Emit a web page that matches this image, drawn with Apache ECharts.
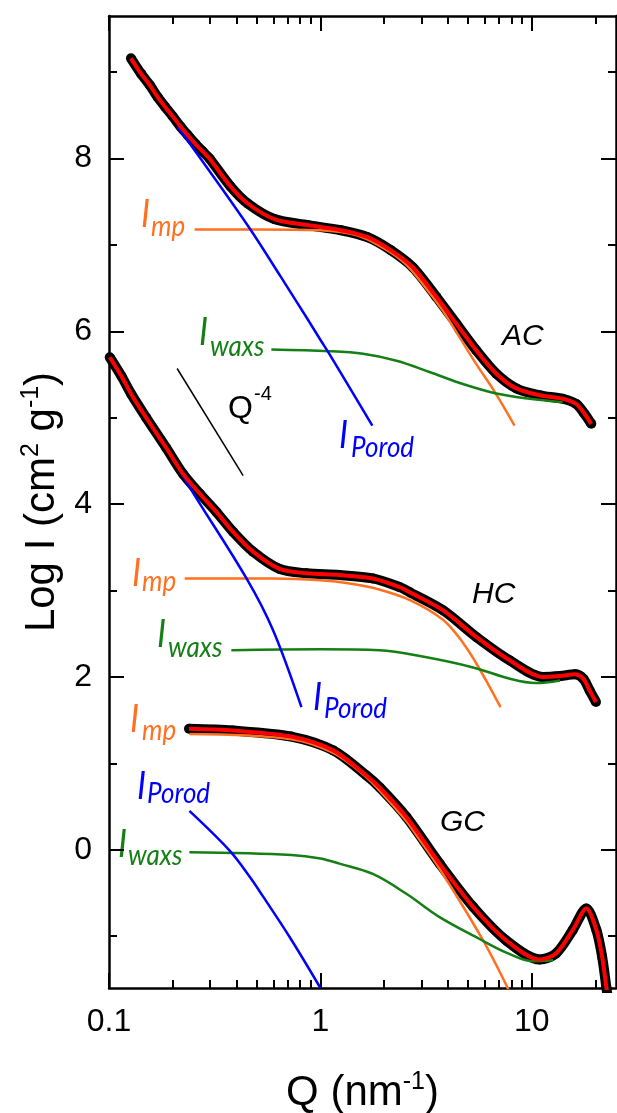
<!DOCTYPE html>
<html><head><meta charset="utf-8">
<script src="https://cdn.jsdelivr.net/npm/echarts@6/dist/echarts.min.js"></script>
<style>html,body{margin:0;padding:0;background:#fff}#c{width:617px;height:1113px}</style>
</head><body><div id="c"></div>
<script>
// ---------- tick definitions ----------
const X_MAJOR = [0.1, 1, 10];
const X_LABELS = ['0.1', '1', '10'];
const X_MINOR = [0.2,0.3,0.4,0.5,0.6,0.7,0.8,0.9,2,3,4,5,6,7,8,9,20];
const Y_MAJOR = [0, 2, 4, 6, 8];
const Y_LABELS = ['0', '2', '4', '6', '8'];
const Y_MINOR = [-1, 1, 3, 5, 7, 9];

// ---------- AC ----------
const AC_Q = [0.127,0.142,0.156,0.170,0.184,0.200,0.218,0.236,0.256,0.278,0.299,0.375,0.453,0.605,0.869,1.25,1.67,2.15,2.74,3.53,4.39,5.46,6.79,8.44,10.9,14.0,16.2,17.7,19.1];
const AC_I = [9.16,8.98,8.85,8.71,8.60,8.49,8.37,8.27,8.17,8.08,8.00,7.68,7.48,7.30,7.23,7.17,7.09,6.94,6.74,6.40,6.09,5.78,5.51,5.34,5.26,5.22,5.16,5.05,4.93];
const AC_MP_Q = [0.254,0.5,1.0,1.5,2.0,2.5,3.0,3.79,4.5,5.46,6.67,8.28];
const AC_MP_I = [7.18,7.18,7.17,7.11,6.96,6.79,6.57,6.24,5.95,5.62,5.30,4.91];
const AC_WAXS_Q = [0.586,1.10,1.59,2.29,3.28,4.72,6.79,9.75,14.0];
const AC_WAXS_I = [5.79,5.77,5.74,5.66,5.53,5.39,5.28,5.22,5.18];
const AC_POROD_Q = [0.211,0.327,0.469,0.650,0.870,0.989,1.107,1.76];
const AC_POROD_I = [8.37,7.72,7.17,6.63,6.14,5.92,5.73,4.91];

// ---------- HC ----------
const HC_Q = [0.1008,0.1146,0.1277,0.150,0.1867,0.224,0.269,0.322,0.386,0.480,0.641,0.857,1.23,1.77,2.37,2.65,3.81,5.48,7.88,11.3,13.6,16.0,17.5,18.8,20.1];
const HC_I = [5.70,5.48,5.27,5.00,4.65,4.35,4.12,3.91,3.68,3.45,3.25,3.20,3.18,3.14,3.04,2.98,2.77,2.46,2.19,2.00,2.01,2.03,1.98,1.84,1.71];
const HC_MP_Q = [0.228,0.6,1.0,1.4,1.85,2.65,3.81,4.71,5.48,6.33,7.11];
const HC_MP_I = [3.14,3.14,3.12,3.08,3.02,2.89,2.66,2.40,2.15,1.88,1.65];
const HC_WAXS_Q = [0.379,1.0,1.90,3.13,5.27,7.88,10.4,13.6];
const HC_WAXS_I = [2.31,2.32,2.31,2.23,2.11,1.98,1.93,1.96];
const HC_POROD_Q = [0.21,0.24,0.447,0.597,0.813];
const HC_POROD_I = [4.46,4.20,3.14,2.54,1.65];

// ---------- GC ----------
const GC_Q = [0.239,0.385,0.728,1.15,1.65,1.91,2.55,3.66,5.27,7.57,10.9,13.0,15.6,18.1,20.2,21.5,22.5,23.0];
const GC_I = [1.40,1.38,1.31,1.15,0.86,0.72,0.38,-0.16,-0.66,-1.05,-1.27,-1.20,-0.93,-0.68,-0.93,-1.24,-1.59,-1.75];
const GC_MP_Q = [0.24,0.728,1.15,1.65,1.91,2.55,2.84,3.66,5.88,7.9];
const GC_MP_I = [1.34,1.28,1.12,0.84,0.68,0.33,0.17,-0.22,-1.05,-1.66];
const GC_WAXS_Q = [0.24,0.728,1.0,1.23,1.77,2.55,3.66,5.63,7.57,10.1,12.6];
const GC_WAXS_I = [-0.03,-0.06,-0.10,-0.16,-0.28,-0.51,-0.78,-1.03,-1.19,-1.29,-1.28];
const GC_POROD_Q = [0.240,0.372,0.462,0.535,0.715,1.00];
const GC_POROD_I = [0.45,-0.01,-0.31,-0.54,-1.01,-1.60];

// ---------- Q^-4 guide ----------
const Q4_Q = [0.21, 0.431];
const Q4_I = [5.57, 4.33];

// ---------- helpers ----------
const zip = (q, v) => q.map((x, i) => [x, v[i]]);
const OR = '#ff7020', GR = '#147f14', BL = '#0000ff';

function dataSeries(q, v) {
  return { type:'line', data: zip(q, v), smooth: 0.3, symbol:'circle', symbolSize: 10, showSymbol: true,
    itemStyle:{color:'#000'}, lineStyle:{color:'#000', width: 10}, z: 2, silent: true };
}
function fitSeries(q, v) {
  return { type:'line', data: zip(q, v), smooth: 0.3, showSymbol:false, symbol:'none',
    lineStyle:{color:'#ff0000', width: 4}, z: 5, silent: true };
}
function compSeries(q, v, c) {
  return { type:'line', data: zip(q, v), smooth: 0.35, showSymbol:false, symbol:'none',
    lineStyle:{color:c, width: 2.5}, z: 4, silent: true };
}

const fmtX = v => { const i = X_MAJOR.findIndex(m => Math.abs(Math.log10(v / m)) < 0.01); return i >= 0 ? X_LABELS[i] : ''; };
const fmtY = v => { const i = Y_MAJOR.findIndex(m => Math.abs(v - m) < 1e-6); return i >= 0 ? Y_LABELS[i] : ''; };

const lineSty = {color:'#000', width:2.5};
const xBase = {type:'log', logBase:10, min:0.1, max:25, gridIndex:0, splitLine:{show:false}, minorTick:{show:false}};
const yBase = {type:'value', min:-1.6, max:9.65, gridIndex:0, splitLine:{show:false}, minorTick:{show:false}};
function tick(vals, len) { return {show:true, inside:true, length:len, lineStyle:{color:'#000', width:2}, customValues: vals}; }
const hiddenLine = {show:false, onZero:false};
const shownLine = {show:true, onZero:false, lineStyle:lineSty};

const nameRich = {
  a: {fontSize: 42, fontFamily:'Liberation Sans', color:'#000', lineHeight: 46},
  s: {fontSize: 25, fontFamily:'Liberation Sans', color:'#000', verticalAlign:'top', lineHeight: 46, padding:[0,0,16,0]}
};

// text annotation: baseline-anchored
function T(x, base, str, size, color, fam, italic, sy) {
  return { type:'group', x: x, y: base, scaleY: sy || 1, silent: true, children: [
    { type:'text', x: 0, y: -0.35 * size, style: { text: str, fontSize: size, fontFamily: fam,
      fontStyle: italic ? 'italic' : 'normal', fill: color, align:'left', verticalAlign:'middle' } }
  ]};
}
const LI = 'Lato', LS = 'Liberation Sans', SY = 1.15;
function Ilabel(x, base, sub, sx, sbase, color) {
  return [T(x, base, 'I', 34, color, LI, true, SY), T(sx, sbase, sub, 26, color, LI, true, SY)];
}

const graphics = [].concat(
  Ilabel(141, 228, 'mp', 151, 237, OR),
  Ilabel(199, 346, 'waxs', 210, 357, GR),
  Ilabel(339, 449, 'Porod', 351, 458, BL),
  [T(502, 347, 'AC', 30, '#000', LS, true, 1)],
  [T(228, 420, 'Q', 32, '#000', LS, false, 1), T(254, 401, '-4', 20, '#000', LS, false, 1)],
  Ilabel(132, 587, 'mp', 142, 592, OR),
  Ilabel(157, 648, 'waxs', 168, 658, GR),
  Ilabel(313, 711, 'Porod', 324, 719, BL),
  [T(472, 605, 'HC', 30, '#000', LS, true, 1)],
  Ilabel(130, 733, 'mp', 142, 741, OR),
  Ilabel(137, 800, 'Porod', 147, 804, BL),
  Ilabel(118, 858, 'waxs', 128, 866, GR),
  [T(440, 833, 'GC', 30, '#000', LS, true, 1)]
);

const option = {
  animation: false,
  backgroundColor: '#fff',
  grid: { left: 109, right: 1, top: 16, bottom: 125, containLabel: false, outerBoundsMode: 'none' },
  xAxis: [
    Object.assign({}, xBase, { position:'bottom', axisLine: shownLine,
      axisTick: tick(X_MAJOR, 15),
      axisLabel: {show:true, customValues: X_MAJOR, formatter: fmtX, color:'#000', fontSize:32, fontFamily:LS, margin:18},
      name: '{a|Q (nm}{s|-1}{a|)}', nameLocation:'middle', nameGap: 82, nameTextStyle:{rich:nameRich} }),
    Object.assign({}, xBase, { position:'bottom', axisLine: hiddenLine, axisTick: tick(X_MINOR, 8), axisLabel:{show:false} }),
    Object.assign({}, xBase, { position:'top', axisLine: shownLine, axisTick: tick(X_MAJOR, 15), axisLabel:{show:false} }),
    Object.assign({}, xBase, { position:'top', axisLine: hiddenLine, axisTick: tick(X_MINOR, 8), axisLabel:{show:false} })
  ],
  yAxis: [
    Object.assign({}, yBase, { position:'left', axisLine: shownLine,
      axisTick: tick(Y_MAJOR, 15),
      axisLabel: {show:true, customValues: Y_MAJOR, formatter: fmtY, color:'#000', fontSize:32, fontFamily:LS, margin:17},
      name: '{a|Log I (cm}{s|2}{a| g}{s|-1}{a|)}', nameLocation:'middle', nameGap: 44, nameTextStyle:{rich:nameRich} }),
    Object.assign({}, yBase, { position:'left', axisLine: hiddenLine, axisTick: tick(Y_MINOR, 8), axisLabel:{show:false} }),
    Object.assign({}, yBase, { position:'right', axisLine: shownLine, axisTick: tick(Y_MAJOR, 15), axisLabel:{show:false} }),
    Object.assign({}, yBase, { position:'right', axisLine: hiddenLine, axisTick: tick(Y_MINOR, 8), axisLabel:{show:false} })
  ],
  series: [
    dataSeries(AC_Q, AC_I), dataSeries(HC_Q, HC_I), dataSeries(GC_Q, GC_I),
    compSeries(AC_MP_Q, AC_MP_I, OR), compSeries(AC_WAXS_Q, AC_WAXS_I, GR), compSeries(AC_POROD_Q, AC_POROD_I, BL),
    compSeries(HC_MP_Q, HC_MP_I, OR), compSeries(HC_WAXS_Q, HC_WAXS_I, GR), compSeries(HC_POROD_Q, HC_POROD_I, BL),
    compSeries(GC_MP_Q, GC_MP_I, OR), compSeries(GC_WAXS_Q, GC_WAXS_I, GR), compSeries(GC_POROD_Q, GC_POROD_I, BL),
    fitSeries(AC_Q, AC_I), fitSeries(HC_Q, HC_I), fitSeries(GC_Q, GC_I),
    { type:'line', data: zip(Q4_Q, Q4_I), showSymbol:false, symbol:'none', lineStyle:{color:'#000', width:1.5}, z: 3, silent:true }
  ],
  graphic: graphics
};

const chart = echarts.init(document.getElementById('c'), null, {renderer:'canvas'});
chart.setOption(option);
</script></body></html>
